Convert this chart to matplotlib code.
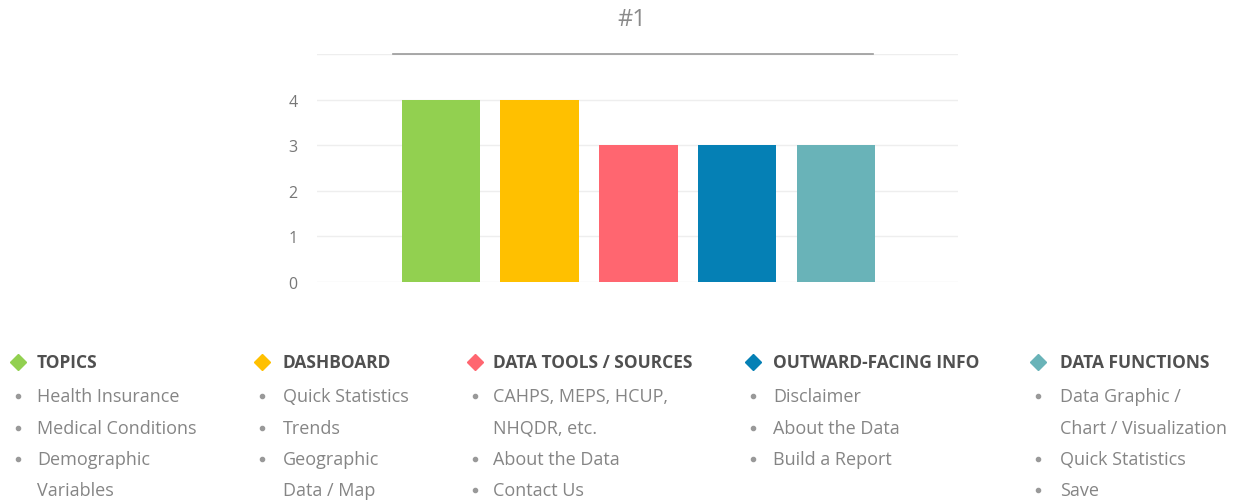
"""
Bar chart "#1" with a five-column category key underneath.
"""

import matplotlib
matplotlib.use("Agg")
import matplotlib.pyplot as plt
from matplotlib.lines import Line2D

# Chart data
categories = ["TOPICS", "DASHBOARD", "DATA TOOLS / SOURCES", "OUTWARD-FACING INFO", "DATA FUNCTIONS"]
values = [4, 4, 3, 3, 3]
colors = ["#92D050", "#FFC000", "#FF6670", "#0580B5", "#69B3B8"]
y_ticks = [0, 1, 2, 3, 4]
title = "#1"

# Key items per category; each item is a list of wrapped lines
topics_items = [["Health Insurance"], ["Medical Conditions"], ["Demographic", "Variables"]]
dashboard_items = [["Quick Statistics"], ["Trends"], ["Geographic", "Data / Map"]]
tools_items = [["CAHPS, MEPS, HCUP,", "NHQDR, etc."], ["About the Data"], ["Contact Us"]]
outward_items = [["Disclaimer"], ["About the Data"], ["Build a Report"]]
functions_items = [["Data Graphic /", "Chart / Visualization"], ["Quick Statistics"], ["Save"]]
key_items = [topics_items, dashboard_items, tools_items, outward_items, functions_items]

W, H = 1242, 502
plt.rcParams['font.family'] = ['Open Sans', 'DejaVu Sans']

fig = plt.figure(figsize=(W / 100, H / 100), dpi=100)
fig.patch.set_facecolor("white")


def px(x, y):
    # pixel coords (from top-left) to figure fraction
    return x / W, 1 - y / H


# Main bar axes
ax = fig.add_axes([317 / W, 1 - 283 / H, 641 / W, 228 / H])
xs = list(range(len(values)))
ax.bar(xs, values, width=0.79, color=colors, zorder=3)
ax.set_xlim(-1.25, 5.23)
ax.set_ylim(0, 5)
for g in range(0, 6):
    ax.axhline(g, color="#EEEEEE", lw=1, zorder=1)
ax.set_yticks(y_ticks)
ax.set_yticklabels([str(t) for t in y_ticks])
ax.tick_params(axis="y", length=0, pad=14, labelsize=11.5, labelcolor="#777777")
ax.set_xticks([])
for s in ax.spines.values():
    s.set_visible(False)

# Title and its underline
fig.text(*px(632, 20), title, ha="center", va="center", fontsize=17, color="#8A8A8A")
x0, y0 = px(393, 55)
x1, _ = px(873, 55)
fig.add_artist(Line2D([x0, x1], [y0, y0], color="#999999", lw=1.2, transform=fig.transFigure))

# Category key
marker_x = [18, 262, 475, 753, 1038]
text_x = [37, 283, 493, 773, 1060]
head_y = 363
row_y = [397, 429, 460, 491]

for i, cat in enumerate(categories):
    mx, my = px(marker_x[i], head_y)
    fig.add_artist(Line2D([mx], [my], marker="D", markersize=8, color=colors[i],
                          linestyle="none", transform=fig.transFigure))
    fig.text(*px(text_x[i], head_y), cat, ha="left", va="center",
             fontsize=12.5, fontweight="bold", color="#505050")
    row = 0
    for item in key_items[i]:
        bx, by = px(marker_x[i], row_y[row])
        fig.add_artist(Line2D([bx], [by], marker="o", markersize=3, color="#999999",
                              linestyle="none", transform=fig.transFigure))
        for line in item:
            fig.text(*px(text_x[i], row_y[row]), line, ha="left", va="center",
                     fontsize=13, color="#858585")
            row += 1

fig.savefig("out.png", dpi=100, facecolor="white")
